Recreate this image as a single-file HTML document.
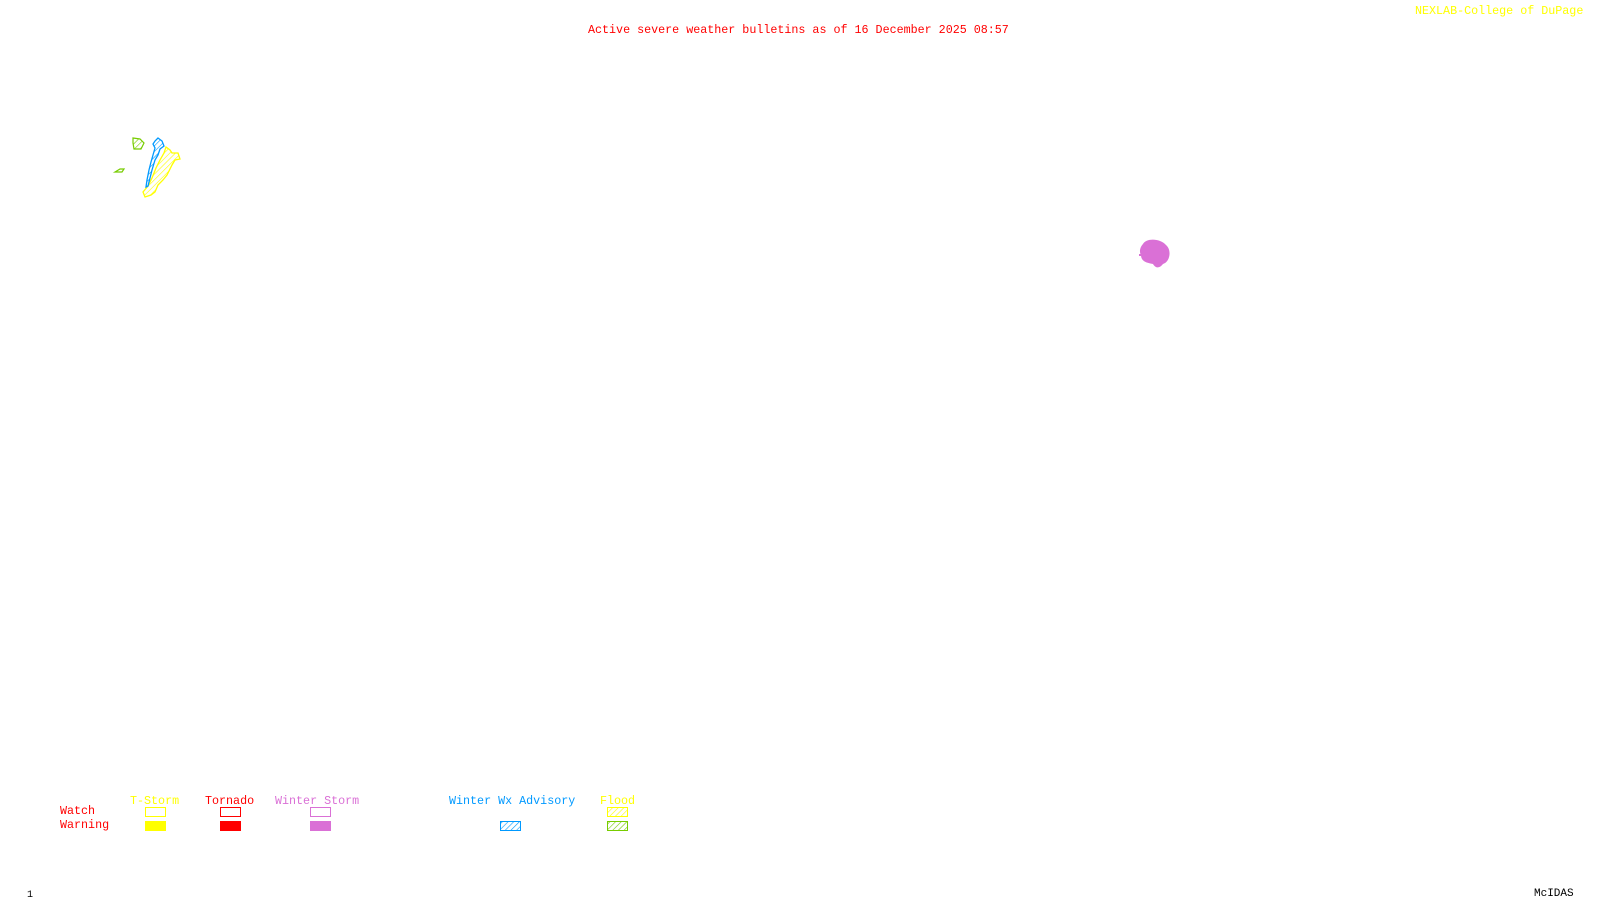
<!DOCTYPE html>
<html><head><style>
body{margin:0;width:1600px;height:900px;background:#fff;position:relative;overflow:hidden;font-family:"Liberation Mono",monospace;}
.t{position:absolute;white-space:nowrap;font-size:11.7px;line-height:10px;}
.b{position:absolute;width:21px;height:10px;box-sizing:border-box;}
</style></head><body>
<div class="t" style="left:588px;top:25px;color:#f00">Active severe weather bulletins as of 16 December 2025 08:57</div>
<div class="t" style="left:1415px;top:6px;color:#ff0">NEXLAB-College of DuPage</div>
<div class="t" style="left:1534px;top:889px;font-size:11px;color:#000">McIDAS</div>
<div class="t" style="left:27px;top:891px;font-size:10px;color:#000">1</div>
<svg style="position:absolute;left:0;top:0" width="1600" height="900">
<defs>
<pattern id="hy" width="4" height="4" patternUnits="userSpaceOnUse" patternTransform="rotate(45)"><line x1="0" y1="0" x2="0" y2="4" stroke="#ff0" stroke-width="1.2"/></pattern>
<pattern id="hg" width="4" height="4" patternUnits="userSpaceOnUse" patternTransform="rotate(45)"><line x1="0" y1="0" x2="0" y2="4" stroke="#7c0" stroke-width="1.2"/></pattern>
<pattern id="hb" width="4" height="4" patternUnits="userSpaceOnUse" patternTransform="rotate(45)"><line x1="0" y1="0" x2="0" y2="4" stroke="#09f" stroke-width="1.2"/></pattern>
</defs>
<polygon points="133,138 140,139 144,143 141,149 134,149 133,143" fill="url(#hg)" stroke="#7c0" stroke-width="1.2"/>
<polygon points="115,172 120,169 124,169 122,172" fill="none" stroke="#7c0" stroke-width="1.2"/>
<polygon points="166,147 170,150 172,153 178,153 180,159 175,160 172,165 167,175 163,180 158,185 155,192 151,195 145,197 143,192 148,186 152,178 156,168 160,160 164,153" fill="url(#hy)" stroke="#ff0" stroke-width="1.3"/>
<polygon points="158,138 162,141 164,146 160,149 158,155 155,160 152,170 150,178 148,186 146,187 147,180 149,170 151,162 153,155 155,148 153,144 155,141" fill="url(#hb)" stroke="#09f" stroke-width="1.3"/>
<path d="M1143,244 C1146,238 1160,238 1166,245 C1172,250 1170,262 1163,264 C1160,268 1156,269 1153,264 C1148,263 1141,262 1141,255 C1139,252 1140,247 1143,244 Z" fill="#da70d6"/>
<rect x="1139" y="254" width="2" height="2" fill="#da70d6"/>
<rect x="607.5" y="807.5" width="20" height="9" fill="url(#hy)" stroke="#ff0"/>
<rect x="500.5" y="821.5" width="20" height="9" fill="url(#hb)" stroke="#09f"/>
<rect x="607.5" y="821.5" width="20" height="9" fill="url(#hg)" stroke="#7c0"/>
</svg>
<div class="t" style="left:60px;top:806px;color:#f00">Watch</div>
<div class="t" style="left:60px;top:820px;color:#f00">Warning</div>
<div class="t" style="left:130px;top:796px;color:#ff0">T-Storm</div>
<div class="t" style="left:205px;top:796px;color:#f00">Tornado</div>
<div class="t" style="left:275px;top:796px;color:#da70d6">Winter Storm</div>
<div class="t" style="left:449px;top:796px;color:#09f">Winter Wx Advisory</div>
<div class="t" style="left:600px;top:796px;color:#ff0">Flood</div>
<div class="b" style="left:145px;top:807px;border:1px solid #ff0"></div>
<div class="b" style="left:220px;top:807px;border:1px solid #f00"></div>
<div class="b" style="left:310px;top:807px;border:1px solid #da70d6"></div>
<div class="b" style="left:145px;top:821px;background:#ff0"></div>
<div class="b" style="left:220px;top:821px;background:#f00"></div>
<div class="b" style="left:310px;top:821px;background:#da70d6"></div>
</body></html>
